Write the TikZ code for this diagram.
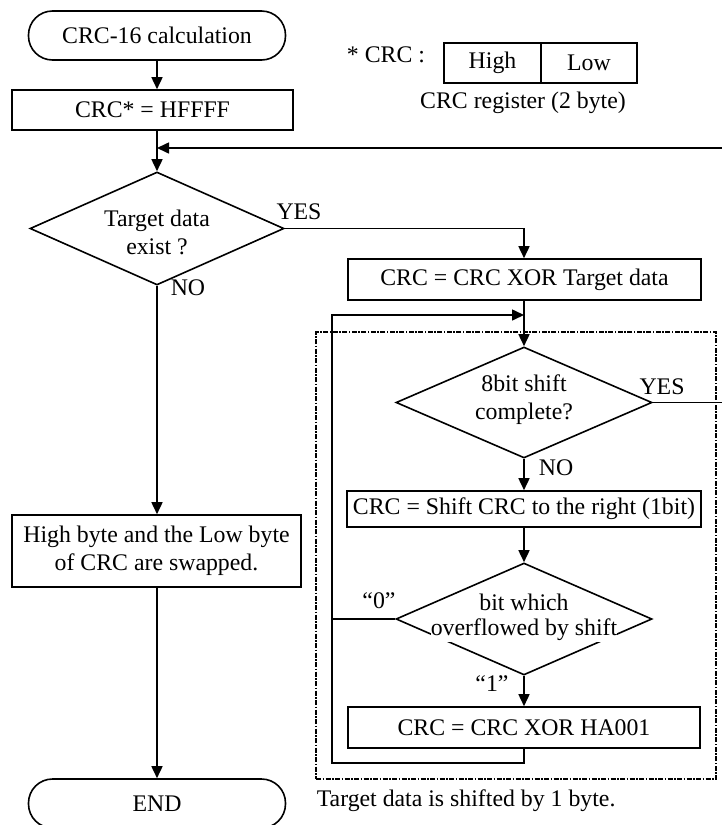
\documentclass[tikz,border=0pt]{standalone}
\usepackage{fontspec}
\setmainfont{Liberation Serif}
\usetikzlibrary{arrows.meta,shapes.geometric}
\begin{document}
\begin{tikzpicture}[x=1pt,y=-1pt,line width=1.6pt,
  every node/.style={font=\fontsize{23.8}{28}\selectfont},
  term/.style={draw,rectangle,rounded corners=24pt,minimum width=257pt,minimum height=49pt,inner sep=0pt},
  proc/.style={draw,rectangle,inner sep=0pt},
  dia/.style={draw,diamond,inner sep=0pt},
  lbl/.style={inner sep=0pt},
  arr/.style={-{Triangle[length=12pt,width=11pt]}},
  dashdot/.style={line width=1.8pt,dash pattern=on 5pt off 1.5pt on 1.5pt off 1.5pt}]
\useasboundingbox (0,0) rectangle (721,825);
% left column
\node[term] (start) at (157,35.5) {CRC-16 calculation};
\node[proc,minimum width=281pt,minimum height=40pt] (init) at (152.5,110) {CRC* = HFFFF};
\coordinate (ret) at (157,148);
\node[dia,minimum width=254pt,minimum height=113pt] (d1) at (157,228.5) {};
\node[lbl,align=center] (d1t) at (157,232) {Target data\\exist ?};
\node[proc,minimum width=289pt,minimum height=72pt,align=center] (swap) at (156.5,551) {High byte and the Low byte\\of CRC are swapped.};
\node[term] (end) at (157,803.5) {END};
% legend
\node[lbl] (star) at (386,55) {* CRC :};
\node[proc,minimum width=97pt,minimum height=40pt] (high) at (492.5,63) {High};
\node[proc,minimum width=96pt,minimum height=40pt] (low) at (589,63) {Low};
\node[lbl] (reg) at (523,103) {CRC register (2 byte)};
% right column
\node[proc,minimum width=353pt,minimum height=41pt] (xor) at (524.5,279.5) {CRC = CRC XOR Target data};
\node[draw,dashdot,minimum width=400pt,minimum height=447pt,inner sep=0pt] (frame) at (516,555.5) {};
\node[dia,minimum width=256pt,minimum height=111pt] (d2) at (524,402.5) {};
\node[lbl,align=center] (d2t) at (524,400) {8bit shift\\complete?};
\node[proc,minimum width=354pt,minimum height=36pt] (shift) at (524,509) {CRC = Shift CRC to the right (1bit)};
\node[dia,minimum width=256pt,minimum height=112pt] (d3) at (524,619) {};
\node[lbl] (d3a) at (524,602) {bit which};
\node[lbl,fill=white,inner ysep=1.5pt] (d3b) at (524,630) {overflowed by shift};
\node[proc,minimum width=352pt,minimum height=41pt] (poly) at (524,727.5) {CRC = CRC XOR HA001};
\node[lbl,anchor=base west] (note) at (316,806) {Target data is shifted by 1 byte.};
% labels
\node[lbl] (yes1) at (299,212) {YES};
\node[lbl] (no1) at (188,288) {NO};
\node[lbl] (yes2) at (662,387) {YES};
\node[lbl] (no2) at (556,468) {NO};
\node[lbl] (zero) at (379,601) {“0”};
\node[lbl] (one) at (492,684) {“1”};
% connectors
\coordinate (lp) at (332,763);
\coordinate (lt) at (332,315);
\coordinate (rc) at (725,148);
\draw[arr] (start.south) -- (start.south |- init.north);
\draw[arr] (init.south -| d1.north) -- (d1.north);
\draw[arr] (d1.east) -| (xor.north -| d2.north);
\draw[arr] (d1.south) -- (d1.south |- swap.north);
\draw[arr] (swap.south -| end.north) -- (end.north);
\draw[arr] (xor.south -| d2.north) -- (d2.north);
\draw[arr] (d2.south) -- (d2.south |- shift.north);
\draw[arr] (shift.south -| d3.north) -- (d3.north);
\draw[arr] (d3.south) -- (d3.south |- poly.north);
\draw[arr] (poly.south -| d3.south) |- (lp) -- (lt) -- (lt -| d2.north);
\draw (d3.west) -- (d3.west -| lp);
\draw[arr] (d2.east) -- (d2.east -| rc) -- (rc) -- (ret);
\end{tikzpicture}
\end{document}
